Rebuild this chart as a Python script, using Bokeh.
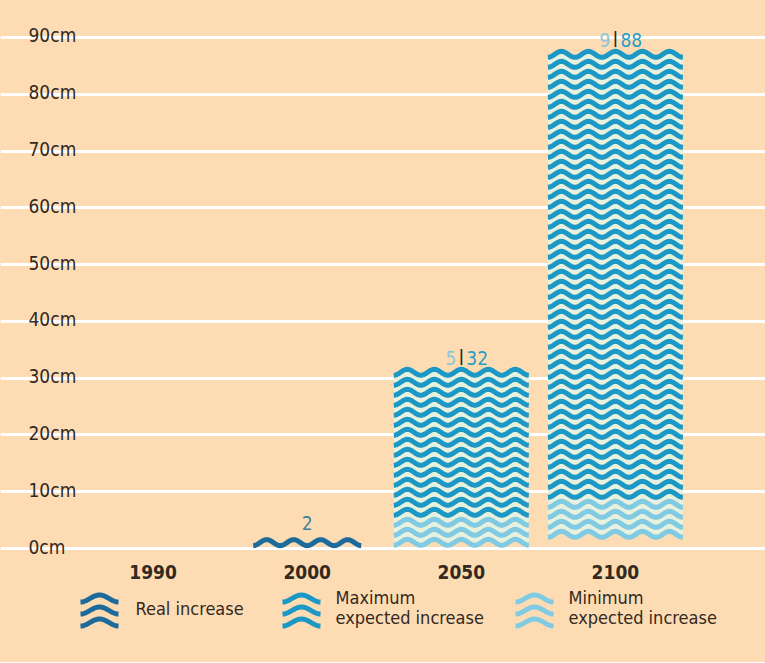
import numpy as np
from bokeh.plotting import figure
from bokeh.models import Range1d, FixedTicker
from bokeh.layouts import column
from bokeh.core.properties import value
from bokeh.embed import file_html
from bokeh.resources import INLINE

# ---------------- data ----------------
years = ["1990", "2000", "2050", "2100"]
real_increase = [0, 2, None, None]
max_expected = [None, None, 32, 88]
min_expected = [None, None, 5, 9]
y_ticks = [0, 10, 20, 30, 40, 50, 60, 70, 80, 90]
y_tick_labels = ["0cm", "10cm", "20cm", "30cm", "40cm", "50cm", "60cm", "70cm", "80cm", "90cm"]
legend_labels = ["Real increase", "Maximum\nexpected increase", "Minimum\nexpected increase"]

# ---------------- style / layout ----------------
BG = "#fddcb4"
REAL = "#1d6b9b"
MAX = "#1b98c5"
MIN = "#80cbe3"
PALE = "#e8f1de"
TEXT = "#33291f"
FONT = "Liberation Sans Narrow, DejaVu Sans Condensed, sans-serif"

FRAME_W = 765
FRAME_H = 556
AXIS_H = 26
PX_PER_CM = 5.678
ZERO_PX_FROM_BOTTOM = 8
CAT_SPACING_PX = 154.1
FIRST_CAT_PX = 152.6

y0 = -ZERO_PX_FROM_BOTTOM / PX_PER_CM
y1 = y0 + FRAME_H / PX_PER_CM
x0 = -FIRST_CAT_PX / CAT_SPACING_PX
x1 = x0 + FRAME_W / CAT_SPACING_PX

UX = 1.0 / CAT_SPACING_PX   # data units per px (x)
UY = 1.0 / PX_PER_CM        # data units per px (y)

AMP = 3 * UY
LW = 5
HALF_LW = 2.5 * UY
STEP = 10 * UY
WAVELEN_PX = 27


def wave(center, periods, level):
    width = periods * WAVELEN_PX * UX
    left = center - width / 2
    xs = np.linspace(left, left + width, 24 * periods + 1)
    ys = level - AMP * np.cos(2 * np.pi * (xs - left) / (width / periods))
    return list(xs), list(ys)


p = figure(frame_width=FRAME_W, frame_height=FRAME_H,
           x_range=Range1d(x0, x1), y_range=Range1d(y0, y1),
           output_backend="svg", toolbar_location=None,
           y_axis_location=None, x_axis_location="below",
           background_fill_color=BG, border_fill_color=BG, min_border=0,
           min_border_bottom=AXIS_H)
p.outline_line_color = None
p.xgrid.grid_line_color = None
p.ygrid.ticker = FixedTicker(ticks=y_ticks)
p.ygrid.grid_line_color = "white"
p.ygrid.grid_line_width = 3

p.xaxis.ticker = FixedTicker(ticks=list(range(len(years))))
p.xaxis.major_label_overrides = {i: y for i, y in enumerate(years)}
p.xaxis.axis_line_color = None
p.xaxis.major_tick_line_color = None
p.xaxis.minor_tick_line_color = None
p.xaxis.major_label_standoff = 2
p.xaxis.major_label_text_font = FONT
p.xaxis.major_label_text_font_style = "bold"
p.xaxis.major_label_text_font_size = "19px"
p.xaxis.major_label_text_color = TEXT

# y tick labels (sitting on the grid lines, inside the plot)
p.text(x=[x0] * len(y_ticks), y=y_ticks, text=y_tick_labels, x_offset=28, y_offset=-2,
       text_font=value(FONT), text_font_size="19px", text_color=TEXT,
       text_baseline="alphabetic", text_align="left")

# wavy bars
pale_xs, pale_ys = [], []
wave_xs, wave_ys, wave_cols = [], [], []
for i, yr in enumerate(years):
    r = real_increase[i]
    if r:
        xs, ys = wave(i, 4, r - AMP - HALF_LW)
        wave_xs.append(xs); wave_ys.append(ys); wave_cols.append(REAL)
    mx = max_expected[i]
    if mx:
        mn = min_expected[i]
        lev = mx - AMP - HALF_LW
        levels = []
        while lev - AMP - HALF_LW >= -0.5 * UY:
            levels.append(lev)
            lev -= STEP
        for a, b in zip(levels[:-1], levels[1:]):
            xs, ys = wave(i, 5, (a + b) / 2)
            pale_xs.append(xs); pale_ys.append(ys)
        for lv in levels:
            xs, ys = wave(i, 5, lv)
            wave_xs.append(xs); wave_ys.append(ys)
            wave_cols.append(MIN if lv < mn else MAX)

p.multi_line(xs=pale_xs, ys=pale_ys, line_color=PALE, line_width=LW)
p.multi_line(xs=wave_xs, ys=wave_ys, line_color=wave_cols, line_width=LW)

# value labels
for i, yr in enumerate(years):
    r = real_increase[i]
    if r:
        p.text(x=[i], y=[r], text=[str(r)], y_offset=-14, text_font=value(FONT),
               text_font_size="19px", text_color="#3f8496", text_align="center",
               text_baseline="alphabetic")
    mx = max_expected[i]
    if mx:
        mn = min_expected[i]
        p.text(x=[i], y=[mx], text=[str(mn)], x_offset=-5, y_offset=-9, text_font=value(FONT),
               text_font_size="19px", text_color="#8cc6d8", text_align="right",
               text_baseline="alphabetic")
        p.text(x=[i], y=[mx], text=["|"], y_offset=-11, text_font=value(FONT),
               text_font_size="16px", text_font_style="bold", text_color="#2b2520",
               text_align="center", text_baseline="alphabetic")
        p.text(x=[i], y=[mx], text=[str(mx)], x_offset=5, y_offset=-9, text_font=value(FONT),
               text_font_size="19px", text_color="#2a9cc6", text_align="left",
               text_baseline="alphabetic")

# ---------------- legend ----------------
LEG_H = 80
q = figure(frame_width=FRAME_W, frame_height=LEG_H,
           x_range=Range1d(0, FRAME_W), y_range=Range1d(LEG_H, 0),
           output_backend="svg", toolbar_location=None,
           x_axis_location=None, y_axis_location=None,
           background_fill_color=BG, border_fill_color=BG, min_border=0)
q.outline_line_color = None
q.grid.visible = False

icon_x = [99, 301, 534]
text_x = [135, 335, 568]
icon_cols = [REAL, MAX, MIN]
arc_rows = [16, 28, 40]
ic_xs, ic_ys, ic_c = [], [], []
for cx, col in zip(icon_x, icon_cols):
    t = np.linspace(-1, 1, 30)
    for ry in arc_rows:
        ic_xs.append(list(cx + 19 * t))
        ic_ys.append(list(ry - 3.5 * np.cos(np.pi * t)))
        ic_c.append(col)
q.multi_line(xs=ic_xs, ys=ic_ys, line_color=ic_c, line_width=5)
q.text(x=text_x, y=[26, 25, 25], text=legend_labels, text_font=value(FONT),
       text_font_size="18px", text_color=TEXT, text_align="left",
       text_baseline="middle", text_line_height=0.95)

layout = column(p, q, spacing=0, styles={"background-color": BG})
open("out.html", "w").write(file_html(layout, INLINE))
